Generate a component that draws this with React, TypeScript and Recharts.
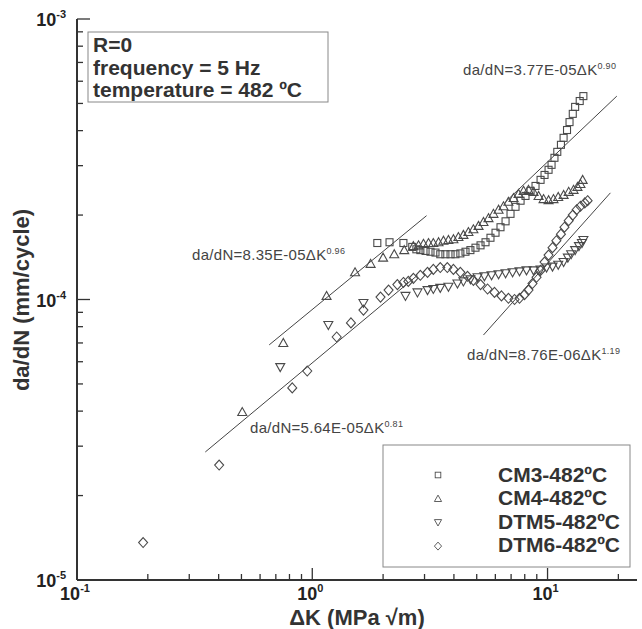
import React from 'react';
import { ScatterChart, Scatter, XAxis, YAxis } from 'recharts';

// ΔK (MPa √m) and da/dN (mm/cycle)
const cm3K = [1.89, 2.13, 2.44, 2.66, 2.77, 2.88, 3.03, 3.18, 3.34, 3.5, 3.68, 3.87, 4.06, 4.26, 4.48, 4.7, 4.94, 5.19, 5.45, 5.72, 6.01, 6.31, 6.63, 6.96, 7.31, 7.68, 8.06, 8.47, 8.89, 9.34, 9.71, 10.1, 10.4, 10.7, 11.0, 11.4, 11.7, 12.1, 12.4, 12.8, 13.1, 13.7, 14.2];
const cm3R = [1.59e-4, 1.6e-4, 1.59e-4, 1.54e-4, 1.51e-4, 1.5e-4, 1.49e-4, 1.48e-4, 1.47e-4, 1.45e-4, 1.45e-4, 1.45e-4, 1.45e-4, 1.46e-4, 1.48e-4, 1.5e-4, 1.53e-4, 1.56e-4, 1.6e-4, 1.66e-4, 1.73e-4, 1.81e-4, 1.9e-4, 2.02e-4, 2.14e-4, 2.25e-4, 2.34e-4, 2.44e-4, 2.54e-4, 2.67e-4, 2.78e-4, 2.9e-4, 3.02e-4, 3.2e-4, 3.36e-4, 3.56e-4, 3.77e-4, 4.02e-4, 4.29e-4, 4.59e-4, 4.86e-4, 5.1e-4, 5.31e-4];

const cm4K = [0.504, 0.753, 1.15, 1.52, 1.77, 2.0, 2.23, 2.46, 2.69, 2.83, 2.97, 3.12, 3.27, 3.44, 3.61, 3.79, 3.98, 4.18, 4.39, 4.61, 4.84, 5.09, 5.34, 5.61, 5.89, 6.19, 6.5, 6.82, 7.17, 7.53, 7.91, 8.3, 8.72, 9.16, 9.62, 10.1, 10.6, 11.1, 11.7, 12.3, 12.9, 13.4, 13.8, 14.1];
const cm4R = [3.97e-5, 7.0e-5, 1.03e-4, 1.25e-4, 1.34e-4, 1.41e-4, 1.45e-4, 1.5e-4, 1.55e-4, 1.56e-4, 1.58e-4, 1.59e-4, 1.59e-4, 1.6e-4, 1.62e-4, 1.63e-4, 1.64e-4, 1.67e-4, 1.7e-4, 1.74e-4, 1.78e-4, 1.83e-4, 1.89e-4, 1.95e-4, 2.02e-4, 2.09e-4, 2.15e-4, 2.23e-4, 2.3e-4, 2.38e-4, 2.44e-4, 2.46e-4, 2.42e-4, 2.34e-4, 2.28e-4, 2.26e-4, 2.28e-4, 2.32e-4, 2.36e-4, 2.42e-4, 2.46e-4, 2.52e-4, 2.58e-4, 2.67e-4];

const dtm5K = [0.731, 1.17, 1.65, 2.49, 2.8, 3.09, 3.27, 3.5, 3.79, 4.14, 4.39, 4.7, 5.04, 5.39, 5.78, 6.19, 6.63, 7.1, 7.6, 8.14, 8.72, 9.34, 9.9, 10.5, 11.1, 11.7, 12.2, 12.6, 13.1, 13.6, 14.0, 14.2];
const dtm5R = [5.74e-5, 8.11e-5, 9.72e-5, 1.03e-4, 1.06e-4, 1.08e-4, 1.09e-4, 1.1e-4, 1.11e-4, 1.14e-4, 1.16e-4, 1.18e-4, 1.2e-4, 1.21e-4, 1.22e-4, 1.23e-4, 1.24e-4, 1.25e-4, 1.26e-4, 1.27e-4, 1.27e-4, 1.28e-4, 1.3e-4, 1.31e-4, 1.33e-4, 1.36e-4, 1.41e-4, 1.45e-4, 1.5e-4, 1.55e-4, 1.59e-4, 1.63e-4];

const dtm6K = [0.191, 0.402, 0.822, 0.952, 1.27, 1.46, 1.65, 1.95, 2.11, 2.3, 2.44, 2.56, 2.69, 2.88, 3.09, 3.27, 3.5, 3.75, 3.98, 4.26, 4.57, 4.84, 5.19, 5.56, 5.95, 6.37, 6.82, 7.24, 7.6, 7.98, 8.3, 8.63, 8.98, 9.34, 9.71, 10.1, 10.5, 10.9, 11.4, 11.8, 12.3, 12.8, 13.3, 13.8, 14.4, 14.8];
const dtm6R = [1.36e-5, 2.57e-5, 4.84e-5, 5.56e-5, 7.35e-5, 8.25e-5, 9.17e-5, 1.02e-4, 1.08e-4, 1.13e-4, 1.15e-4, 1.16e-4, 1.19e-4, 1.22e-4, 1.25e-4, 1.28e-4, 1.3e-4, 1.3e-4, 1.28e-4, 1.25e-4, 1.21e-4, 1.17e-4, 1.13e-4, 1.09e-4, 1.06e-4, 1.03e-4, 1.01e-4, 1.0e-4, 1.01e-4, 1.04e-4, 1.08e-4, 1.14e-4, 1.2e-4, 1.27e-4, 1.36e-4, 1.44e-4, 1.53e-4, 1.62e-4, 1.71e-4, 1.81e-4, 1.91e-4, 2.0e-4, 2.09e-4, 2.15e-4, 2.21e-4, 2.25e-4];

// fitted power-law lines, end points as drawn
const fitAK = [0.656, 3.06];
const fitAR = [6.89e-5, 1.99e-4];
const fitBK = [0.351, 2.8];
const fitBR = [2.86e-5, 1.22e-4];
const fitCK = [6.63, 19.7];
const fitCR = [2.23e-4, 5.31e-4];
const fitDK = [5.34, 18.5];
const fitDR = [7.47e-5, 2.4e-4];

const xTicks = [0.1, 0.2, 0.3, 0.4, 0.5, 0.6, 0.7, 0.8, 0.9, 1, 2, 3, 4, 5, 6, 7, 8, 9, 10, 20];
const yTicks = [1e-5, 2e-5, 3e-5, 4e-5, 5e-5, 6e-5, 7e-5, 8e-5, 9e-5, 1e-4, 2e-4, 3e-4, 4e-4, 5e-4, 6e-4, 7e-4, 8e-4, 9e-4, 1e-3];

const legendNames = ['CM3-482ºC', 'CM4-482ºC', 'DTM5-482ºC', 'DTM6-482ºC'];
const infoLines = ['R=0', 'frequency = 5 Hz', 'temperature = 482 ºC'];

const FONT = '"Liberation Sans", Arial, Helvetica, sans-serif';
const AX = '#333';
const MK = '#4a4a4a';

const zip = (k: number[], r: number[]) => k.map((v, i) => ({ k: v, r: r[i] }));

const isMajor = (v: number) => Math.abs(Math.log10(v) - Math.round(Math.log10(v))) < 1e-6;
const expOf = (v: number) => Math.round(Math.log10(v));

const SquareMark = (p: any) => (
  <rect x={p.cx - 3.5} y={p.cy - 3.5} width={7} height={7} fill="none" stroke={MK} strokeWidth={1.1} />
);
const TriUp = (p: any) => (
  <polygon points={`${p.cx},${p.cy - 4.5} ${p.cx - 4.5},${p.cy + 3.5} ${p.cx + 4.5},${p.cy + 3.5}`} fill="none" stroke={MK} strokeWidth={1.1} />
);
const TriDown = (p: any) => (
  <polygon points={`${p.cx},${p.cy + 4.5} ${p.cx - 4.5},${p.cy - 3.5} ${p.cx + 4.5},${p.cy - 3.5}`} fill="none" stroke={MK} strokeWidth={1.1} />
);
const Diamond = (p: any) => (
  <polygon points={`${p.cx},${p.cy - 5} ${p.cx + 4.5},${p.cy} ${p.cx},${p.cy + 5} ${p.cx - 4.5},${p.cy}`} fill="none" stroke={MK} strokeWidth={1.1} />
);
const NoMark = () => <g />;

const BottomTick = (props: any) => {
  const { x, y, payload } = props;
  const major = isMajor(payload.value);
  return (
    <g>
      <line x1={x} y1={y} x2={x} y2={y - (major ? 12 : 6)} stroke={AX} strokeWidth={1.3} />
      {major && (
        <text x={x - 2} y={y + 20} textAnchor="middle" fontFamily={FONT} fontWeight="bold" fontSize={18} fill="#222">
          10<tspan dy={-8} fontSize={11}>{String(expOf(payload.value))}</tspan>
        </text>
      )}
    </g>
  );
};

const TopTick = (props: any) => {
  const { x, y, payload } = props;
  const major = isMajor(payload.value);
  return <line x1={x} y1={y} x2={x} y2={y + (major ? 12 : 6)} stroke={AX} strokeWidth={1.3} />;
};

const LeftTick = (props: any) => {
  const { x, y, payload } = props;
  const major = isMajor(payload.value);
  return (
    <g>
      <line x1={x} y1={y} x2={x + (major ? 13 : 6)} y2={y} stroke={AX} strokeWidth={1.3} />
      {major && (
        <text x={x - 11} y={y + 7} textAnchor="end" fontFamily={FONT} fontWeight="bold" fontSize={18} fill="#222">
          10<tspan dy={-8} fontSize={11}>{String(expOf(payload.value))}</tspan>
        </text>
      )}
    </g>
  );
};

const RightTick = (props: any) => {
  const { x, y, payload } = props;
  const major = isMajor(payload.value);
  return <line x1={x} y1={y} x2={x - (major ? 13 : 6)} y2={y} stroke={AX} strokeWidth={1.3} />;
};

const Equation = ({ x, y, base, exp }: { x: number; y: number; base: string; exp: string }) => (
  <text x={x} y={y} fontFamily={FONT} fontSize={15} letterSpacing={0.3} fill="#444">
    {base}
    <tspan dy={-6} fontSize={9}>{exp}</tspan>
  </text>
);

const legendShapes = [SquareMark, TriUp, TriDown, Diamond];

export default function App() {
  const axisLine = { stroke: AX, strokeWidth: 2 };
  return (
    <div style={{ position: 'absolute', left: 0, top: 0, width: 642, height: 629, background: '#fff' }}>
      <ScatterChart width={642} height={629} margin={{ top: 19, right: 5, bottom: 0, left: 0 }}>
        <XAxis
          xAxisId="b"
          type="number"
          dataKey="k"
          scale="log"
          domain={[0.1, 24]}
          allowDataOverflow
          ticks={xTicks}
          height={49}
          tickSize={0}
          tickMargin={0}
          tickLine={false}
          axisLine={axisLine}
          tick={<BottomTick />}
          interval={0}
        />
        <XAxis
          xAxisId="t"
          orientation="top"
          type="number"
          dataKey="k"
          scale="log"
          domain={[0.1, 24]}
          allowDataOverflow
          ticks={xTicks}
          height={0}
          tickSize={0}
          tickMargin={0}
          tickLine={false}
          axisLine={axisLine}
          tick={<TopTick />}
          interval={0}
        />
        <YAxis
          yAxisId="l"
          type="number"
          dataKey="r"
          scale="log"
          domain={[1e-5, 1e-3]}
          allowDataOverflow
          ticks={yTicks}
          width={77}
          tickSize={0}
          tickMargin={0}
          tickLine={false}
          axisLine={axisLine}
          tick={<LeftTick />}
          interval={0}
        />
        <YAxis
          yAxisId="r"
          orientation="right"
          type="number"
          dataKey="r"
          scale="log"
          domain={[1e-5, 1e-3]}
          allowDataOverflow
          ticks={yTicks}
          width={0}
          tickSize={0}
          tickMargin={0}
          tickLine={false}
          axisLine={axisLine}
          tick={<RightTick />}
          interval={0}
        />
        <Scatter xAxisId="b" yAxisId="l" data={zip(fitAK, fitAR)} line={{ stroke: '#444', strokeWidth: 1 }} shape={NoMark} isAnimationActive={false} />
        <Scatter xAxisId="b" yAxisId="l" data={zip(fitBK, fitBR)} line={{ stroke: '#444', strokeWidth: 1 }} shape={NoMark} isAnimationActive={false} />
        <Scatter xAxisId="b" yAxisId="l" data={zip(fitCK, fitCR)} line={{ stroke: '#444', strokeWidth: 1 }} shape={NoMark} isAnimationActive={false} />
        <Scatter xAxisId="b" yAxisId="l" data={zip(fitDK, fitDR)} line={{ stroke: '#444', strokeWidth: 1 }} shape={NoMark} isAnimationActive={false} />
        <Scatter xAxisId="b" yAxisId="l" name="CM3-482ºC" data={zip(cm3K, cm3R)} shape={SquareMark} isAnimationActive={false} />
        <Scatter xAxisId="b" yAxisId="l" name="CM4-482ºC" data={zip(cm4K, cm4R)} shape={TriUp} isAnimationActive={false} />
        <Scatter xAxisId="b" yAxisId="l" name="DTM5-482ºC" data={zip(dtm5K, dtm5R)} shape={TriDown} isAnimationActive={false} />
        <Scatter xAxisId="b" yAxisId="l" name="DTM6-482ºC" data={zip(dtm6K, dtm6R)} shape={Diamond} isAnimationActive={false} />
      </ScatterChart>

      <svg width={642} height={629} style={{ position: 'absolute', left: 0, top: 0, pointerEvents: 'none' }}>
        {/* condition box */}
        <rect x={88} y={32} width={240} height={70} fill="#fff" stroke="#888" strokeWidth={1} />
        {infoLines.map((t, i) => (
          <text key={t} x={93} y={52 + i * 22.5} fontFamily={FONT} fontWeight="bold" fontSize={21} fill="#333">
            {t}
          </text>
        ))}

        <Equation x={463} y={75} base="da/dN=3.77E-05ΔK" exp="0.90" />
        <Equation x={192} y={260} base="da/dN=8.35E-05ΔK" exp="0.96" />
        <Equation x={467} y={360} base="da/dN=8.76E-06ΔK" exp="1.19" />
        <Equation x={250} y={433} base="da/dN=5.64E-05ΔK" exp="0.81" />

        {/* legend */}
        <rect x={383} y={445} width={247} height={122} fill="#fff" stroke="#888" strokeWidth={1} />
        {legendNames.map((n, i) => {
          const Shape = legendShapes[i];
          return (
            <g key={n}>
              <g transform={`translate(438 ${475 + i * 23.7}) scale(0.8) translate(-438 ${-(475 + i * 23.7)})`}>
                <Shape cx={438} cy={475 + i * 23.7} />
              </g>
              <text x={498} y={482 + i * 23.3} fontFamily={FONT} fontWeight="bold" fontSize={21} fill="#333">
                {n}
              </text>
            </g>
          );
        })}

        {/* axis titles */}
        <text x={357} y={625} textAnchor="middle" fontFamily={FONT} fontWeight="bold" fontSize={22} fill="#333">
          ΔK (MPa √m)
        </text>
        <text x={29} y={300} transform="rotate(-90 29 300)" textAnchor="middle" fontFamily={FONT} fontWeight="bold" fontSize={22} fill="#333">
          da/dN (mm/cycle)
        </text>
      </svg>
    </div>
  );
}
